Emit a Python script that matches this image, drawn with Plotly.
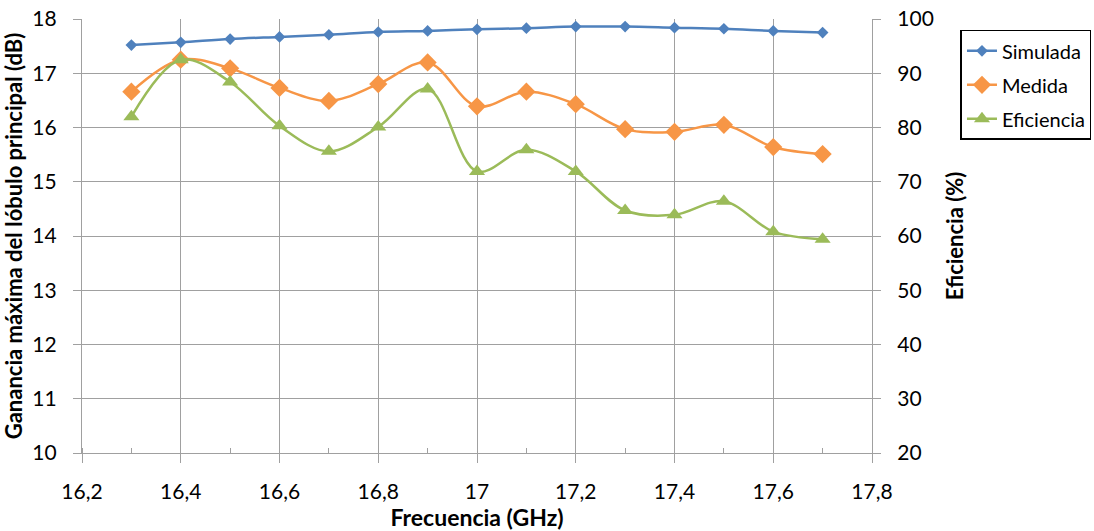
import plotly.graph_objects as go

freq = [16.3, 16.4, 16.5, 16.6, 16.7, 16.8, 16.9, 17.0, 17.1, 17.2, 17.3, 17.4, 17.5, 17.6, 17.7]
simulada = [17.52, 17.57, 17.63, 17.67, 17.71, 17.76, 17.78, 17.81, 17.83, 17.86, 17.86, 17.84, 17.82, 17.78, 17.75]
medida = [16.66, 17.25, 17.09, 16.73, 16.49, 16.80, 17.20, 16.39, 16.66, 16.43, 15.97, 15.92, 16.05, 15.64, 15.51]
eficiencia = [82.0, 92.5, 88.4, 80.3, 75.6, 80.1, 87.1, 71.9, 75.9, 71.9, 64.7, 63.9, 66.4, 60.8, 59.4]

x_tickvals = [16.2, 16.4, 16.6, 16.8, 17.0, 17.2, 17.4, 17.6, 17.8]
x_ticktext = ["16,2", "16,4", "16,6", "16,8", "17", "17,2", "17,4", "17,6", "17,8"]

FONT = "Lato"
GRID = "#A0A0A0"

fig = go.Figure()
fig.add_trace(go.Scatter(x=freq, y=simulada, name="Simulada", mode="lines+markers",
                         line=dict(color="#4F81BD", width=2.5, shape="spline"),
                         marker=dict(symbol="diamond", size=9, color="#4F81BD"),
                         legendgroup="a"))
fig.add_trace(go.Scatter(x=freq, y=medida, name="Medida", mode="lines+markers",
                         line=dict(color="#F79646", width=2.5, shape="spline"),
                         marker=dict(symbol="diamond", size=14, color="#F79646"),
                         legendgroup="b"))
fig.add_trace(go.Scatter(x=freq, y=eficiencia, name="Eficiencia", mode="lines+markers",
                         line=dict(color="#9BBB59", width=2.5, shape="spline"),
                         marker=dict(symbol="triangle-up", size=14, color="#9BBB59"),
                         legendgroup="c", yaxis="y2"))

fig.update_layout(
    width=1094, height=531,
    margin=dict(l=82, r=222, t=19, b=78, autoexpand=False),
    paper_bgcolor="white", plot_bgcolor="white",
    font=dict(family=FONT, size=20, color="#000000"),
    showlegend=True,
    legend=dict(x=1.112, y=0.975, xanchor="left", yanchor="top",
                bordercolor="#000000", borderwidth=1.5, bgcolor="white",
                font=dict(family=FONT, size=20, color="#000000"),
                tracegroupgap=5, itemwidth=30),
    xaxis=dict(range=[16.2, 17.8], tickvals=x_tickvals, ticktext=x_ticktext,
               showgrid=True, gridcolor=GRID, gridwidth=1.3,
               showline=True, linecolor=GRID, linewidth=1.3,
               ticks="outside", ticklen=9, tickcolor=GRID, tickwidth=1.3,
               ticklabelstandoff=11,
               minor=dict(dtick=0.1, tick0=16.2, ticks="inside", ticklen=5, tickcolor=GRID, tickwidth=1.3, showgrid=False),
               tickfont=dict(size=21),
               title=dict(text="<b>Frecuencia (GHz)</b>", font=dict(size=23), standoff=6),
               zeroline=False, automargin=False),
    yaxis=dict(range=[10, 18], dtick=1, tick0=10,
               showgrid=True, gridcolor=GRID, gridwidth=1.3,
               showline=True, linecolor=GRID, linewidth=1.3,
               ticks="outside", ticklen=8, tickcolor=GRID, tickwidth=1.3,
               ticklabelstandoff=12, tickfont=dict(size=21),
               title=dict(text="<b>Ganancia máxima del lóbulo principal (dB)</b>", font=dict(size=22), standoff=3),
               zeroline=False, automargin=False),
    yaxis2=dict(range=[20, 100], dtick=10, tick0=20, overlaying="y", side="right",
                showgrid=False, showline=True, linecolor=GRID, linewidth=1.3,
                ticks="outside", ticklen=8, tickcolor=GRID, tickwidth=1.3,
                ticklabelstandoff=12, tickfont=dict(size=21),
                title=dict(text="<b>Eficiencia (%)</b>", font=dict(size=22), standoff=14),
                zeroline=False, automargin=False),
)

fig.write_html("out.html", config={"displayModeBar": False},
               post_script="document.body.style.margin='0';document.body.style.overflow='hidden';")
